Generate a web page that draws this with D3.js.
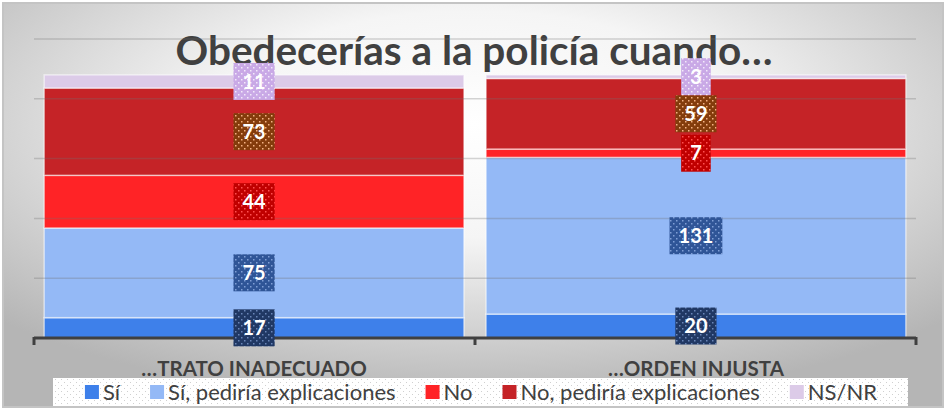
<!DOCTYPE html>
<html>
<head>
<meta charset="utf-8">
<script src="https://cdn.jsdelivr.net/npm/d3@7"></script>
<style>
  body { margin: 0; background: #fff; }
  svg { display: block; font-family: Lato, "Open Sans", sans-serif; }
</style>
</head>
<body>
<div class="chart"></div>
<script>
// chart values
var categories = ["…TRATO INADECUADO", "…ORDEN INJUSTA"];
var seriesNames = ["Sí", "Sí, pediría explicaciones", "No", "No, pediría explicaciones", "NS/NR"];
var si = [17, 20];
var siExplicaciones = [75, 131];
var no = [44, 7];
var noExplicaciones = [73, 59];
var nsnr = [11, 3];
var yTicks = [0, 50, 100, 150, 200, 250];
var titleText = "Obedecerías a la policía cuando…";

var svgWidth = 946;
var svgHeight = 409;

var barColors = ["#3e80ea", "#94b9f6", "#ff2326", "#c52327", "#dccbe8"];
var labelColors = ["#203864", "#2f5597", "#c00000", "#843c0c", "#c9a9e6"];
var dotColors = ["#6a86b8", "#7f9ed6", "#ff5050", "#f4b183", "#f2eafa"];

// build rows for d3.stack
var table = categories.map(function (c, i) {
  return {
    cat: c,
    s0: si[i], s1: siExplicaciones[i], s2: no[i], s3: noExplicaciones[i], s4: nsnr[i]
  };
});
var keys = ["s0", "s1", "s2", "s3", "s4"];
var stacked = d3.stack().keys(keys)(table);

var svg = d3.select(".chart")
  .append("svg")
  .attr("width", svgWidth)
  .attr("height", svgHeight);

var defs = svg.append("defs");

// background gradient
var bg = defs.append("radialGradient")
  .attr("id", "bg")
  .attr("cx", "50%").attr("cy", "30%").attr("r", "70%");
bg.append("stop").attr("offset", "0").attr("stop-color", "#ffffff");
bg.append("stop").attr("offset", "0.4").attr("stop-color", "#f5f5f5");
bg.append("stop").attr("offset", "1").attr("stop-color", "#b5b5b5");

// dotted patterns for labels
labelColors.forEach(function (col, i) {
  var p = defs.append("pattern")
    .attr("id", "dots" + i)
    .attr("width", 6).attr("height", 6)
    .attr("patternUnits", "userSpaceOnUse");
  p.append("rect").attr("width", 6).attr("height", 6).attr("fill", col);
  p.append("rect").attr("x", 1).attr("y", 1).attr("width", 1.5).attr("height", 1.5).attr("fill", dotColors[i]);
  p.append("rect").attr("x", 4).attr("y", 4).attr("width", 1.5).attr("height", 1.5).attr("fill", dotColors[i]);
});
var lp = defs.append("pattern")
  .attr("id", "legdots")
  .attr("width", 6).attr("height", 6)
  .attr("patternUnits", "userSpaceOnUse");
lp.append("rect").attr("width", 6).attr("height", 6).attr("fill", "#ffffff");
lp.append("rect").attr("x", 1).attr("y", 1).attr("width", 1).attr("height", 1).attr("fill", "#d0d0d0");
lp.append("rect").attr("x", 4).attr("y", 4).attr("width", 1).attr("height", 1).attr("fill", "#d0d0d0");

svg.append("rect")
  .attr("x", 3).attr("y", 3)
  .attr("width", 940).attr("height", 404)
  .attr("fill", "url(#bg)")
  .attr("stroke", "#c4c4c4")
  .attr("stroke-width", 2);

// scales
var x = d3.scaleBand()
  .domain(categories)
  .range([34, 916])
  .paddingInner(0.05)
  .paddingOuter(0.023);

var y = d3.scaleLinear()
  .domain([0, 250])
  .range([338, 39]);

// title (drawn first, the data labels sit on top of it)
svg.append("text")
  .attr("x", 474).attr("y", 65)
  .attr("text-anchor", "middle")
  .attr("fill", "#404040")
  .style("font-weight", "bold")
  .style("font-size", "40.5px")
  .text(titleText);

// bars
var layers = svg.selectAll("g.layer")
  .data(stacked)
  .enter()
  .append("g")
  .attr("class", "layer")
  .attr("fill", (d, i) => barColors[i]);

layers.selectAll("rect")
  .data(d => d)
  .enter()
  .append("rect")
  .attr("x", d => x(d.data.cat))
  .attr("y", d => y(d[1]))
  .attr("width", x.bandwidth())
  .attr("height", d => y(d[0]) - y(d[1]))
  .attr("stroke", "rgba(255,255,255,0.55)")
  .attr("stroke-width", 1.5);

// gridlines on top (they show through the bars)
svg.append("g")
  .selectAll("line")
  .data(yTicks.slice(1))
  .enter()
  .append("line")
  .attr("x1", 34).attr("x2", 916)
  .attr("y1", d => y(d)).attr("y2", d => y(d))
  .attr("stroke", "#6f6f6f")
  .attr("stroke-opacity", 0.3)
  .attr("stroke-width", 1.5);

// x axis
var axis = svg.append("g")
  .attr("transform", "translate(0,338)")
  .call(d3.axisBottom(x).tickSize(0).tickPadding(23));
axis.select(".domain").remove();
axis.selectAll("text")
  .attr("fill", "#404040")
  .style("font-family", "Lato, sans-serif")
  .style("font-weight", "bold")
  .style("font-size", "20.5px");

var bounds = [x.range()[0], x(categories[1]) - x.step() * x.paddingInner() / 2, x.range()[1]];
svg.append("line")
  .attr("x1", bounds[0]).attr("x2", bounds[2])
  .attr("y1", 338).attr("y2", 338)
  .attr("stroke", "#404040").attr("stroke-width", 3);
svg.selectAll("line.tick-b")
  .data(bounds)
  .enter()
  .append("line")
  .attr("class", "tick-b")
  .attr("x1", d => d).attr("x2", d => d)
  .attr("y1", 337).attr("y2", 345)
  .attr("stroke", "#404040").attr("stroke-width", 3);

// data labels
stacked.forEach(function (layer, i) {
  layer.forEach(function (d) {
    var cx = x(d.data.cat) + x.bandwidth() / 2;
    var cy = (y(d[0]) + y(d[1])) / 2;
    var g = svg.append("g");
    var box = g.append("rect").attr("fill", "url(#dots" + i + ")");
    var t = g.append("text")
      .attr("x", cx).attr("y", cy)
      .attr("text-anchor", "middle")
      .attr("dy", "0.36em")
      .attr("fill", "#ffffff")
      .style("font-weight", "bold")
      .style("font-size", "20px")
      .text(d[1] - d[0]);
    var w = t.node().getComputedTextLength() + 18;
    box.attr("x", cx - w / 2).attr("y", cy - 18.5)
      .attr("width", w).attr("height", 37);
  });
});

// legend
svg.append("rect")
  .attr("x", 53).attr("y", 378)
  .attr("width", 855).attr("height", 28)
  .attr("fill", "url(#legdots)");

var legend = svg.append("g");
var lx = 0;
seriesNames.forEach(function (name, i) {
  var item = legend.append("g").attr("transform", "translate(" + lx + ",0)");
  item.append("rect")
    .attr("x", 0).attr("y", 385)
    .attr("width", 14).attr("height", 14)
    .attr("fill", barColors[i]);
  var t = item.append("text")
    .attr("x", 18).attr("y", 392)
    .attr("dy", "0.35em")
    .attr("fill", "#404040")
    .style("font-size", "22px")
    .text(name);
  lx += 18 + t.node().getComputedTextLength() + 30;
});
var legW = lx - 30;
legend.attr("transform", "translate(" + (481 - legW / 2) + ",0)");
</script>
</body>
</html>
